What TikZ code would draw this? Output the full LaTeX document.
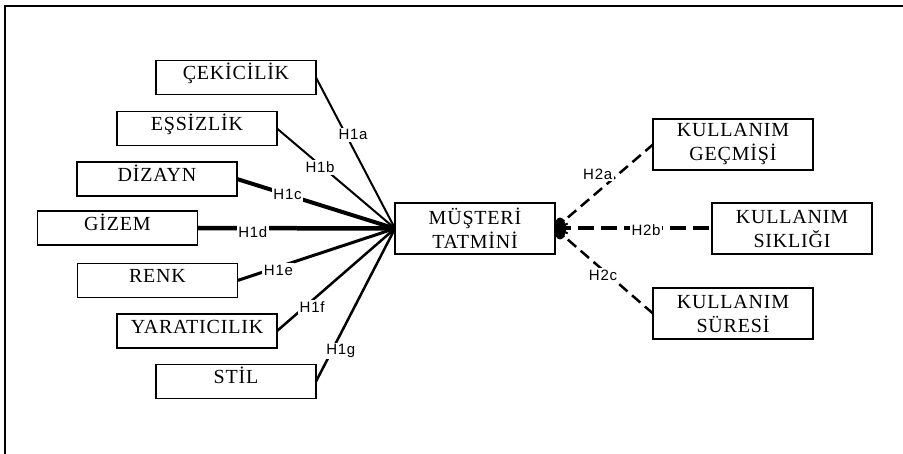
\documentclass[tikz,border=0pt]{standalone}
\usepackage{fontspec}
\setmainfont{Liberation Serif}[LetterSpace=4]
\newfontfamily\lblfont{Liberation Sans}[LetterSpace=5]

\begin{document}
\begin{tikzpicture}[x=1pt,y=-1pt,
  box/.style={draw, line width=1.2pt, minimum width=160pt, minimum height=34pt,
    inner sep=0pt, outer sep=0pt, align=center,
    font=\fontsize{20}{24}\selectfont, text height=13.5pt, text depth=8.5pt},
  boxtwo/.style={box, minimum height=51pt, text height={}, text depth={}},
  lbl/.style={fill=white, inner sep=1.5pt, font=\lblfont\fontsize{15}{15}\selectfont},
  dashlink/.style={line width=2.5pt, dash pattern=on 11pt off 6pt},
  thickdash/.style={line width=4pt, dash pattern=on 16pt off 7pt}
]
\useasboundingbox (0,0) rectangle (903,454);

% outer frame (open to the right and bottom)
\draw[line width=2pt] (5,460) -- (5,6.5) -- (910,6.5);

% left-hand constructs
\node[box] (cek)  at (236,77.5)  {ÇEKİCİLİK};
\node[box] (ess)  at (197,128.5) {EŞSİZLİK};
\node[box] (diz)  at (157,179)   {DİZAYN};
\node[box] (giz)  at (117.5,228) {GİZEM};
\node[box] (renk) at (157.5,280.5) {RENK};
\node[box] (yar)  at (197,331)   {YARATICILIK};
\node[box] (stil) at (236,381.5) {STİL};

% central construct
\node[boxtwo] (mus) at (475,228.5) {MÜŞTERİ\\TATMİNİ};

% right-hand constructs
\node[boxtwo] (gec) at (733,144.5) {KULLANIM\\GEÇMİŞİ};
\node[boxtwo] (sik) at (792,228.5) {KULLANIM\\SIKLIĞI};
\node[boxtwo] (sur) at (733,313.5) {KULLANIM\\SÜRESİ};

% H1 paths
\draw[line width=2pt]   (cek.east)  -- (mus.west) node[lbl,pos=0.38,xshift=7pt]{H1a};
\draw[line width=2pt]   (ess.east)  -- (mus.west) node[lbl,pos=0.39,xshift=-3pt]{H1b};
\draw[line width=4pt]   (diz.east)  -- (mus.west) node[lbl,pos=0.32]{H1c};
\draw[line width=4.5pt] (giz.east)  -- (mus.west) node[lbl,pos=0.28,yshift=-4pt]{H1d};
\draw[line width=3pt]   (renk.east) -- (mus.west) node[lbl,pos=0.26,yshift=-3pt]{H1e};
\draw[line width=2.5pt] (yar.east)  -- (mus.west) node[lbl,pos=0.23,xshift=8pt]{H1f};
\draw[line width=2.5pt] (stil.east) -- (mus.west) node[lbl,pos=0.2,xshift=9pt]{H1g};

% H2 paths, with the ink blot where they leave the central box
\fill (mus.east) ++(5,0) ellipse (6 and 11);
\foreach \a in {-60,-30,0,30,60}
  \draw[line width=2pt] (mus.east) ++(4,0) -- ++(\a:10);
\draw[dashlink]  (mus.east) -- (gec.west) node[lbl,pos=0.65,xshift=-21pt]{H2a};
\draw[thickdash] (mus.east) -- (sik.west) node[lbl,pos=0.58,yshift=-2pt]{H2b};
\draw[dashlink]  (mus.east) -- (sur.west) node[lbl,pos=0.49,yshift=-5pt]{H2c};
\end{tikzpicture}
\end{document}
